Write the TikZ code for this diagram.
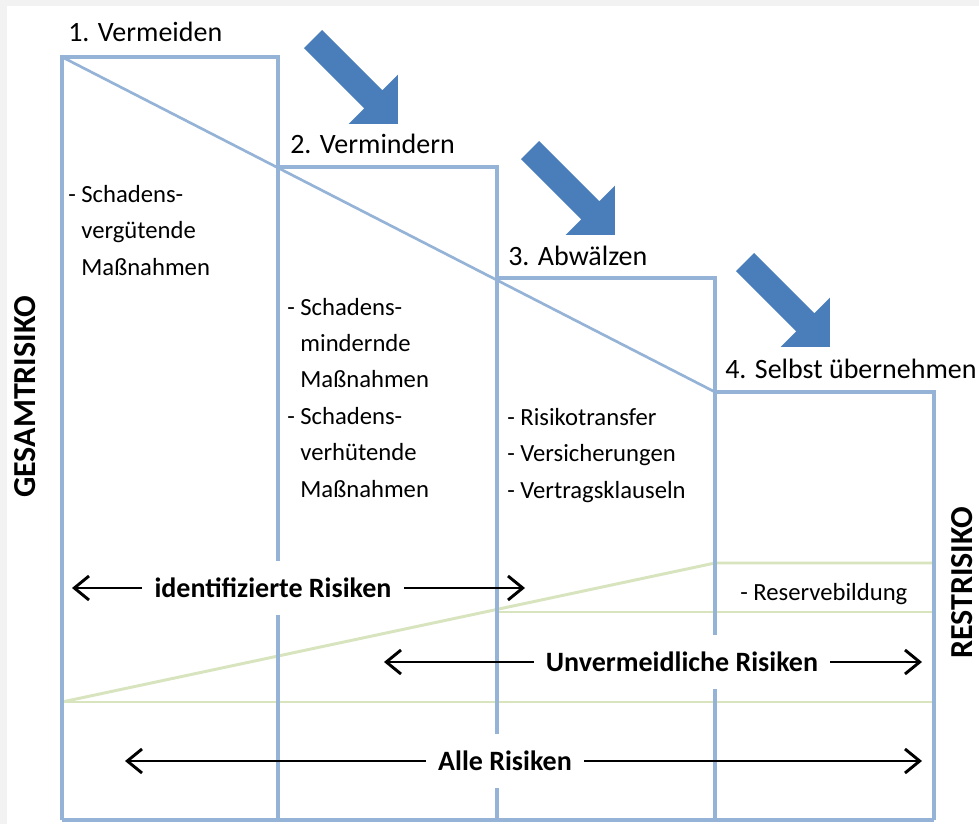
\documentclass[tikz,border=0pt]{standalone}
\usepackage{fontspec}
\setmainfont{Carlito}
\usetikzlibrary{arrows.meta,shapes.arrows}

\definecolor{framebg}{HTML}{F2F2F2}
\definecolor{stepblue}{HTML}{95B3D7}
\definecolor{arrowblue}{HTML}{4A7EBB}
\definecolor{restgreen}{HTML}{D7E4BD}

\tikzset{
    stepline/.style={stepblue, line width=3pt},
    diagline/.style={stepblue, line width=2pt},
    greenline/.style={restgreen, line width=2.2pt},
    heading/.style={anchor=base west, inner sep=0pt,
        font=\fontsize{21}{25}\selectfont},
    bodytext/.style={anchor=base west, inner sep=0pt, align=left,
        font=\fontsize{18.5}{27.3}\selectfont},
    risklabel/.style={fill=white, inner xsep=9pt, minimum height=40pt,
        font=\fontsize{21}{25}\selectfont\bfseries},
    riskarrow/.style={-{Straight Barb[length=11pt,width=18pt]}, line width=2.2pt},
    sidelabel/.style={rotate=90, inner sep=0pt,
        font=\fontsize{24}{28}\selectfont\bfseries},
    bigarrow/.style={single arrow, fill=arrowblue, inner xsep=0pt, inner ysep=9.4pt,
        minimum height=90pt, single arrow head extend=16.5pt, rotate=-45}
}

\begin{document}
\begin{tikzpicture}[x=0.75pt,y=-0.75pt]
    \useasboundingbox (0,0) rectangle (979,824);
    \fill[framebg] (0,0) rectangle (979,824);
    \fill[white] (7,6) rectangle (979,824);

    % Restrisiko
    \draw[greenline] (62,702) -- (715,563) -- (934,563);
    \draw[greenline] (62,702) -- (934,702);
    \draw[greenline] (497,612) -- (934,612);

    % Stufen
    \draw[stepline] (62,820) -- (62,57) -- (278,57) -- (278,820);
    \draw[stepline] (278,167) -- (497,167) -- (497,820);
    \draw[stepline] (497,278) -- (715,278) -- (715,820);
    \draw[stepline] (715,392) -- (934,392) -- (934,820);
    \draw[stepline] (62,820) -- (934,820);
    \draw[diagline] (62,57) -- (715,392);

    \node[heading] (vermeiden) at (68,42) {1. Vermeiden};
    \node[heading] (vermindern) at (290,153) {2. Vermindern};
    \node[heading] (abwaelzen) at (508,265) {3. Abwälzen};
    \node[heading] (selbst) at (725,378) {4. Selbst übernehmen};

    \node[bigarrow] (pfeilA) at (351,77) {};
    \node[bigarrow] (pfeilB) at (568,188) {};
    \node[bigarrow] (pfeilC) at (783,300) {};

    % base = letzte Zeile
    \node[bodytext] (massnA) at (68,275) {- Schadens-\\\phantom{- }vergütende\\\phantom{- }Maßnahmen};
    \node[bodytext] (massnB) at (287,497) {- Schadens-\\\phantom{- }mindernde\\\phantom{- }Maßnahmen\\- Schadens-\\\phantom{- }verhütende\\\phantom{- }Maßnahmen};
    \node[bodytext] (massnC) at (507,498) {- Risikotransfer\\- Versicherungen\\- Vertragsklauseln};
    \node[bodytext] (reserve) at (740,600) {- Reservebildung};

    \node[sidelabel] (gesamt) at (25,397) {GESAMTRISIKO};
    \node[sidelabel] (rest) at (962,583) {RESTRISIKO};

    \node[risklabel] (ident) at (273,588) {identifizierte Risiken};
    \coordinate (identL) at (72,588);
    \coordinate (identR) at (525,588);
    \draw[riskarrow] (ident) -- (identL);
    \draw[riskarrow] (ident) -- (identR);

    \node[risklabel] (unverm) at (682,662) {Unvermeidliche Risiken};
    \coordinate (unvermL) at (384,662);
    \coordinate (unvermR) at (922,662);
    \draw[riskarrow] (unverm) -- (unvermL);
    \draw[riskarrow] (unverm) -- (unvermR);

    \node[risklabel] (alle) at (505,761) {Alle Risiken};
    \coordinate (alleL) at (125,761);
    \coordinate (alleR) at (922,761);
    \draw[riskarrow] (alle) -- (alleL);
    \draw[riskarrow] (alle) -- (alleR);
\end{tikzpicture}
\end{document}
